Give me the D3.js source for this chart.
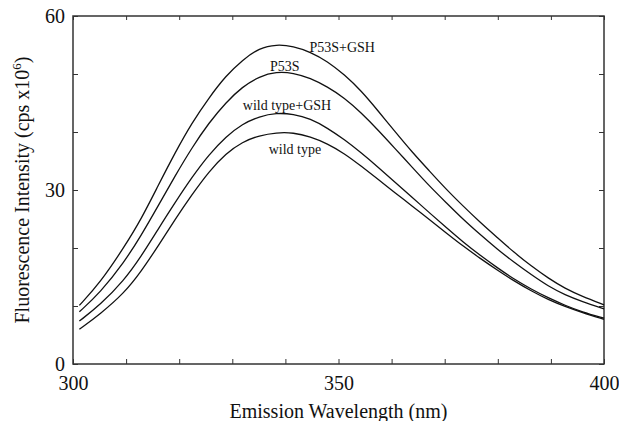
<!DOCTYPE html>
<html>
<head>
<meta charset="utf-8">
<script src="https://d3js.org/d3.v7.min.js"></script>
<style>
  body { margin: 0; background: #fff; }
  svg text { font-family: "Liberation Serif", "DejaVu Serif", serif; fill: #111; }
  .curve { fill: none; stroke: #111; stroke-width: 1.3px; }
  .frame { fill: none; stroke: #333; stroke-width: 1.5px; }
</style>
</head>
<body>
<script>
// wavelengths (nm)
var wavelength = [301.2, 305.1, 309.6, 312.8, 316.0, 319.2, 322.4, 325.6, 328.8, 331.9,
                  335.1, 338.3, 341.5, 344.7, 347.9, 351.1, 354.3, 357.5, 360.7, 363.9,
                  367.1, 370.3, 373.5, 376.7, 379.9, 383.1, 386.3, 389.5, 392.7, 395.8, 400.0];

var p53sGsh = [10.1, 14.0, 20.1, 24.9, 30.7, 36.4, 41.6, 45.9, 49.7, 52.4,
               54.5, 55.1, 54.8, 53.8, 52.2, 49.9, 47.1, 43.6, 40.0, 36.5,
               33.3, 30.1, 27.2, 24.4, 21.8, 19.2, 16.9, 14.8, 13.0, 11.7, 10.2];
var p53s = [9.0, 12.3, 17.5, 22.1, 27.2, 32.4, 37.3, 41.6, 45.1, 47.8,
            49.6, 50.4, 50.2, 49.3, 47.8, 45.9, 43.3, 40.3, 37.1, 33.9,
            30.7, 27.8, 24.9, 22.3, 19.8, 17.5, 15.4, 13.4, 11.9, 10.8, 9.5];
var wildGsh = [7.4, 10.2, 14.4, 18.5, 23.2, 27.8, 32.2, 36.1, 39.2, 41.4,
               42.7, 43.3, 43.1, 42.3, 40.7, 38.7, 36.4, 33.9, 31.3, 28.7,
               26.1, 23.5, 21.0, 18.7, 16.6, 14.6, 12.9, 11.4, 10.1, 9.0, 7.9];
var wild = [6.0, 8.6, 12.2, 15.9, 20.3, 24.9, 29.2, 33.2, 36.3, 38.3,
            39.4, 39.9, 39.9, 39.2, 38.0, 36.3, 34.1, 31.8, 29.5, 27.2,
            24.9, 22.6, 20.3, 18.2, 16.2, 14.3, 12.6, 11.1, 9.9, 8.9, 7.7];

var seriesNames = ["P53S+GSH", "P53S", "wild type+GSH", "wild type"];
var seriesValues = [p53sGsh, p53s, wildGsh, wild];
// where each label sits (wavelength, intensity)
var labelAt = [[350.7, 54.7], [339.9, 51.4], [340.3, 44.7], [341.8, 37.1]];

var xTickLabels = [300, 350, 400];
var yTickLabels = [0, 30, 60];

var width = 619, height = 421;
var margin = {top: 16, right: 15, bottom: 57, left: 73};
var w = width - margin.left - margin.right,
    h = height - margin.top - margin.bottom;

var svg = d3.select("body").append("svg")
    .attr("width", width).attr("height", height);
var g = svg.append("g")
    .attr("transform", "translate(" + margin.left + "," + margin.top + ")");

var x = d3.scaleLinear().domain([300, 400]).range([0, w]);
var y = d3.scaleLinear().domain([0, 60]).range([h, 0]);

// minor ticks pointing inwards on all four sides
var xMinor = d3.range(300, 401, 10), yMinor = d3.range(0, 61, 10);
function plain(a) { a.select(".domain").remove(); a.selectAll("line").attr("stroke", "#333"); }
g.append("g").attr("transform", "translate(0," + h + ")")
    .call(d3.axisTop(x).tickValues(xMinor).tickSize(5).tickFormat("")).call(plain);
g.append("g")
    .call(d3.axisBottom(x).tickValues(xMinor).tickSize(4).tickFormat("")).call(plain);
g.append("g")
    .call(d3.axisRight(y).tickValues(yMinor).tickSize(5).tickFormat("")).call(plain);
g.append("g").attr("transform", "translate(" + w + ",0)")
    .call(d3.axisLeft(y).tickValues(yMinor).tickSize(5).tickFormat("")).call(plain);

// tick labels
function labels(a) {
    a.select(".domain").remove();
    a.selectAll("text").attr("font-size", 20).attr("font-family", "Liberation Serif").attr("fill", "#111");
}
g.append("g").attr("transform", "translate(0," + h + ")")
    .call(d3.axisBottom(x).tickValues(xTickLabels).tickSize(0).tickPadding(12)).call(labels);
g.append("g")
    .call(d3.axisLeft(y).tickValues(yTickLabels).tickSize(0).tickPadding(8)).call(labels);

g.append("rect").attr("class", "frame").attr("width", w).attr("height", h);

var line = d3.line()
    .x(function(d, i) { return x(wavelength[i]); })
    .y(function(d) { return y(d); })
    .curve(d3.curveBasis);

seriesValues.forEach(function(vals) {
    g.append("path").attr("class", "curve").attr("d", line(vals));
});

seriesNames.forEach(function(name, i) {
    g.append("text")
        .attr("x", x(labelAt[i][0])).attr("y", y(labelAt[i][1]))
        .attr("text-anchor", "middle").attr("dy", "0.35em")
        .attr("font-size", 14)
        .text(name);
});

// axis titles
svg.append("text")
    .attr("x", margin.left + w / 2).attr("y", 418)
    .attr("text-anchor", "middle").attr("font-size", 20)
    .text("Emission Wavelength (nm)");

var yt = svg.append("text")
    .attr("transform", "translate(29," + (margin.top + h / 2) + ") rotate(-90)")
    .attr("text-anchor", "middle").attr("font-size", 20);
yt.append("tspan").text("Fluorescence Intensity (cps x10");
yt.append("tspan").attr("dy", -8).attr("font-size", 13).text("6");
yt.append("tspan").attr("dy", 8).text(")");
</script>
</body>
</html>
